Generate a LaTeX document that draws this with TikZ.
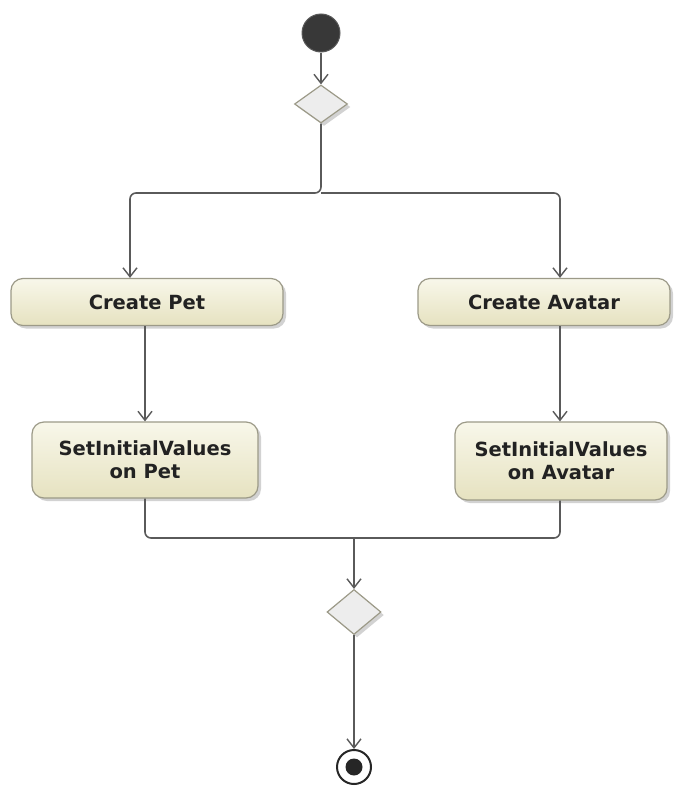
\documentclass[tikz,border=0pt]{standalone}
\usepackage{fontspec}
\setmainfont{DejaVu Sans}
\usetikzlibrary{arrows.meta,shapes.geometric,shadows,calc}
\definecolor{linegray}{HTML}{5A5A5A}
\definecolor{boxedge}{HTML}{9C9A88}
\definecolor{boxtop}{HTML}{F8F7EA}
\definecolor{boxbot}{HTML}{E6E2C0}
\definecolor{diafill}{HTML}{EDEDED}
\definecolor{labeltext}{HTML}{222222}
\tikzset{
  x=1pt, y=-1pt,
  flow/.style={draw=linegray, line width=1.6pt, rounded corners=6pt,
    -{Straight Barb[length=9pt,width=14pt,line width=1.4pt]}},
  plainflow/.style={draw=linegray, line width=1.6pt, rounded corners=6pt},
  actbox/.style={draw=boxedge, line width=1.2pt, rounded corners=12pt,
    top color=boxtop, bottom color=boxbot, inner sep=0pt, text=labeltext,
    font=\bfseries\fontsize{19.5}{23}\selectfont, align=center,
    drop shadow={shadow xshift=3pt, shadow yshift=-3pt, opacity=0.35, fill=gray}},
  merge/.style={diamond, draw=boxedge, line width=1.2pt, fill=diafill, inner sep=0pt,
    drop shadow={shadow xshift=3pt, shadow yshift=-3pt, opacity=0.35, fill=gray}},
}
\begin{document}
\begin{tikzpicture}
\useasboundingbox (0,0) rectangle (673,787);
\fill[white] (0,0) rectangle (673,787);

% initial node and first decision
\node[circle, fill=black!78, draw=black!65, line width=1pt, minimum size=38pt, inner sep=0pt] (start) at (321,33) {};
\node[merge, minimum width=53pt, minimum height=38pt] (d1) at (321,104) {};

% actions
\node[actbox, minimum width=272pt, minimum height=47pt] (cp) at (147,302) {Create Pet};
\node[actbox, minimum width=252pt, minimum height=47pt] (ca) at (544,302) {Create Avatar};
\node[actbox, minimum width=226pt, minimum height=76pt] (sp) at (145,460) {SetInitialValues\\on Pet};
\node[actbox, minimum width=212pt, minimum height=78pt] (sa) at (561,461) {SetInitialValues\\on Avatar};

% second decision and final node
\node[merge, minimum width=54pt, minimum height=45pt] (d2) at (354,612) {};
\node[circle, draw=black!85, fill=white, line width=2pt, minimum size=34pt, inner sep=0pt] (fin) at (354,767) {};
\node[circle, fill=black!85, minimum size=17pt, inner sep=0pt] (finc) at (fin.center) {};

% control flow
\coordinate (fork) at (321,193);
\coordinate (join) at (354,538);
\draw[flow] (start) -- (d1.north);
\draw[flow] (d1.south) -- (fork) -| (cp.north -| 130,0);
\draw[flow] (fork) -| (ca.north -| 560,0);
\draw[flow] (cp.south -| sp.north) -- (sp.north);
\draw[flow] (ca.south -| 560,0) -- (sa.north -| 560,0);
\draw[plainflow] (sp.south) |- (join);
\draw[plainflow] (sa.south -| 560,0) |- (join);
\draw[flow] (join) -- (d2.north);
\draw[flow] (d2.south) -- (fin.north);
\end{tikzpicture}
\end{document}
